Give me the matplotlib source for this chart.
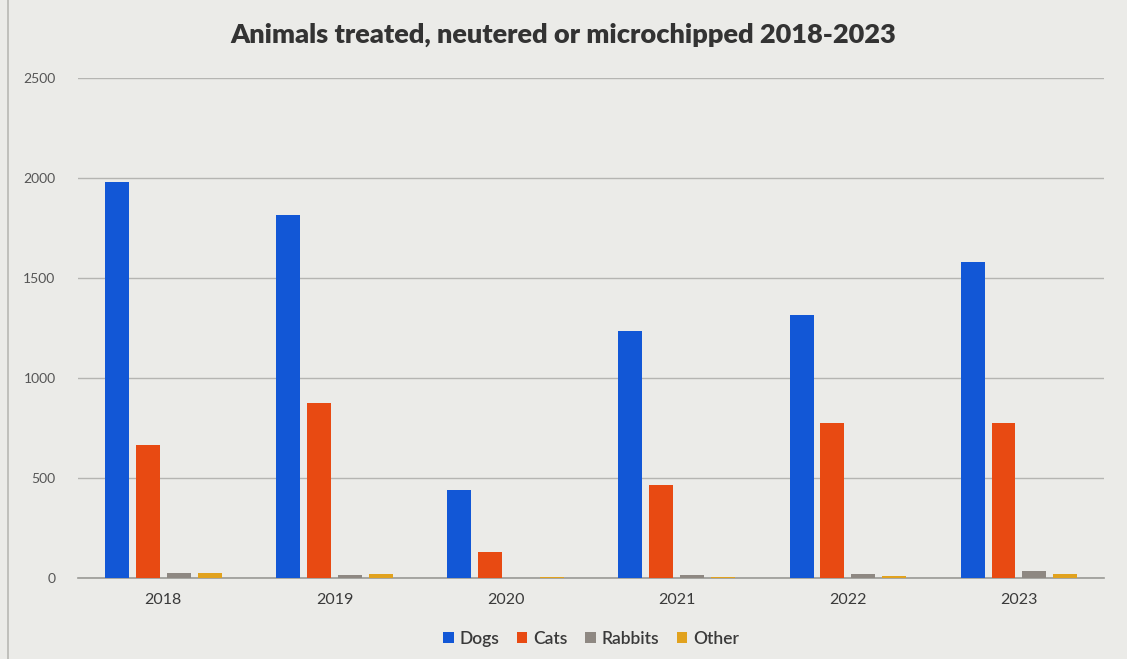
import numpy as np
import matplotlib.pyplot as plt
from matplotlib.patches import Rectangle

years = ['2018', '2019', '2020', '2021', '2022', '2023']
dogs = [1980, 1815, 440, 1235, 1315, 1580]
cats = [665, 875, 130, 465, 775, 775]
rabbits = [25, 15, 0, 15, 20, 35]
other = [25, 22, 5, 5, 8, 20]

series = [('Dogs', dogs, '#1257d6'), ('Cats', cats, '#e84a12'),
          ('Rabbits', rabbits, '#8e8882'), ('Other', other, '#e1a21e')]

plt.rcParams['font.family'] = ['Lato', 'DejaVu Sans']

fig = plt.figure(figsize=(11.27, 6.59), dpi=100)
bg = '#ebebe8'
fig.patch.set_facecolor(bg)
ax = fig.add_axes([0.069, 0.123, 0.911, 0.759])
ax.set_facecolor(bg)

# chart border line on the left
fig.patches.append(Rectangle((0.007, -0.01), 1.1, 1.2, transform=fig.transFigure,
                             fill=False, edgecolor='#b8b8b4', lw=1.2))

x = np.arange(len(years))
width = 0.14
step = 0.18
for i, (name, vals, col) in enumerate(series):
    ax.bar(x + (i - 1.5) * step, vals, width, color=col, label=name, zorder=3)

ax.set_xlim(-0.5, len(years) - 0.5)
ax.set_ylim(0, 2500)
ax.set_yticks(range(0, 2501, 500))
ax.set_xticks(x)
ax.set_xticklabels(years)
ax.grid(axis='y', color='#b5b5b2', lw=1, zorder=0)
for s in ['top', 'right', 'left']:
    ax.spines[s].set_visible(False)
ax.spines['bottom'].set_color('#9a9a96')
ax.spines['bottom'].set_linewidth(1.2)
ax.tick_params(axis='y', length=0, pad=16, labelsize=10, labelcolor='#555555')
ax.tick_params(axis='x', length=0, pad=11, labelsize=11.5, labelcolor='#3a3a3a')

fig.suptitle('Animals treated, neutered or microchipped 2018-2023', y=0.965,
             fontsize=19.5, fontweight='heavy', color='#333333')

ax.legend(loc='upper center', bbox_to_anchor=(0.5, -0.075), ncol=4, frameon=False,
          handlelength=0.6, handleheight=0.6, handletextpad=0.35,
          columnspacing=1.0, labelcolor='#3a3a3a', prop={'weight': 'semibold', 'size': 12.5})

fig.savefig('out.png', dpi=100, facecolor=bg)
